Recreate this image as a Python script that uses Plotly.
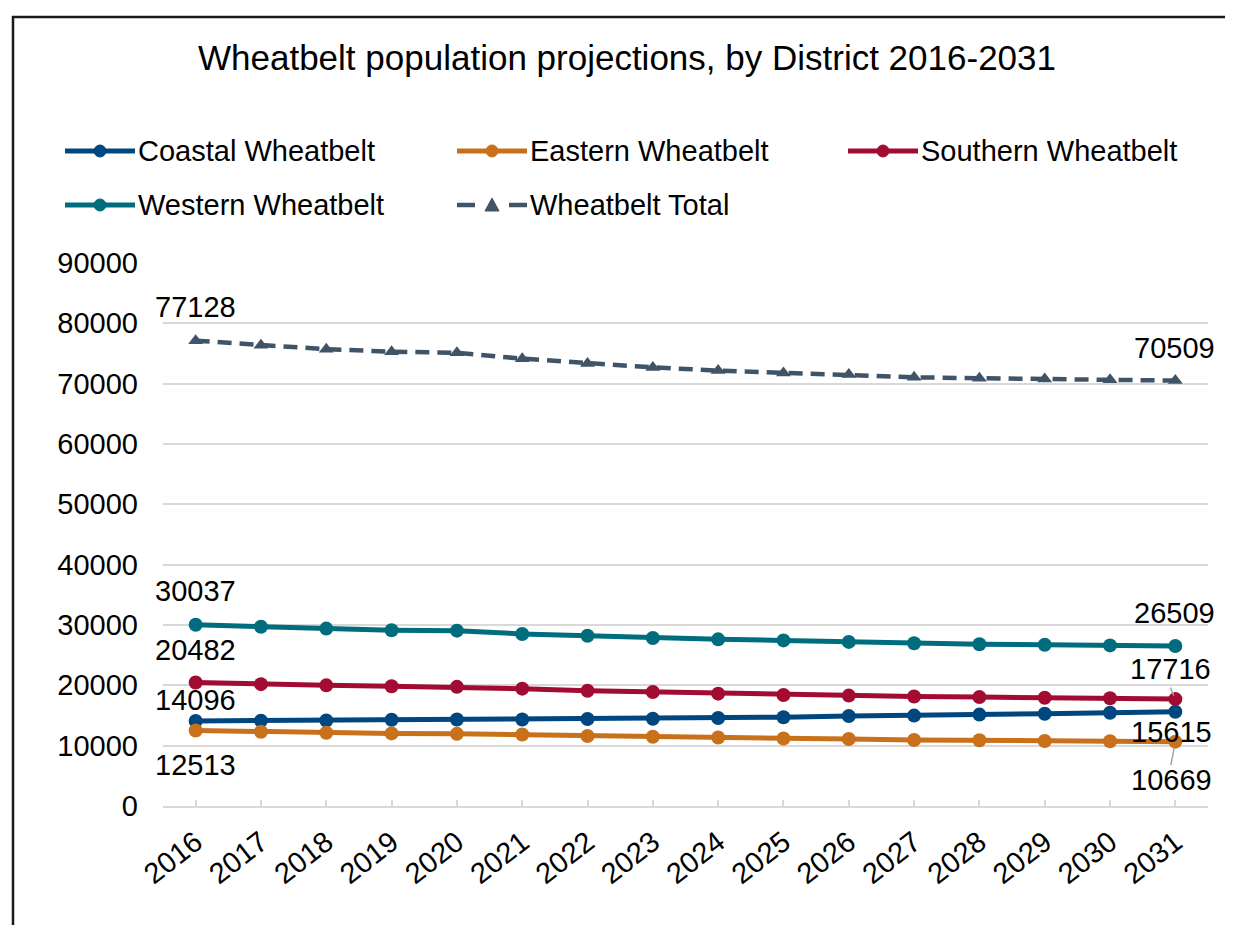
import plotly.graph_objects as go

# ---------------- data ----------------
years = ["2016", "2017", "2018", "2019", "2020", "2021", "2022", "2023",
         "2024", "2025", "2026", "2027", "2028", "2029", "2030", "2031"]

coastal = [14096, 14150, 14180, 14290, 14340, 14330, 14420, 14470,
           14580, 14720, 14900, 14980, 15150, 15300, 15450, 15615]
eastern = [12513, 12300, 12130, 12030, 11960, 11850, 11600, 11480,
           11350, 11200, 11100, 10950, 10900, 10780, 10740, 10669]
southern = [20482, 20200, 20000, 19850, 19750, 19450, 19100, 18900,
            18620, 18400, 18300, 18150, 18050, 17950, 17850, 17716]
western = [30037, 29720, 29400, 29130, 29060, 28520, 28230, 27850,
           27620, 27450, 27200, 26970, 26800, 26730, 26620, 26509]
total = [77128, 76370, 75710, 75300, 75110, 74150, 73350, 72700,
         72170, 71770, 71500, 71050, 70900, 70760, 70660, 70509]

series_names = ["Coastal Wheatbelt", "Eastern Wheatbelt", "Southern Wheatbelt",
                "Western Wheatbelt", "Wheatbelt Total"]
series_values = [coastal, eastern, southern, western, total]
series_colors = ["#00467F", "#C8701A", "#A20C33", "#006D7F", "#405468"]

y_ticks = [0, 10000, 20000, 30000, 40000, 50000, 60000, 70000, 80000, 90000]

title_text = "Wheatbelt population projections, by District 2016-2031"

# ---------------- layout geometry ----------------
W, H = 1233, 925
ML, MR, MT, MB = 155, 33, 255, 127
PW, PH = W - ML - MR, H - MT - MB
FONT = "Liberation Sans, Arial, sans-serif"


def px(xp):
    return (xp - ML) / PW


def py(yp):
    return (H - MB - yp) / PH


fig = go.Figure()

for name, vals, col in zip(series_names, series_values, series_colors):
    if name == "Wheatbelt Total":
        fig.add_trace(go.Scatter(
            x=years, y=vals, mode="lines+markers", name=name,
            line=dict(color=col, width=4.5, dash="14px,8px"),
            marker=dict(symbol="triangle-up", size=13, color=col),
            showlegend=False, cliponaxis=False))
    else:
        fig.add_trace(go.Scatter(
            x=years, y=vals, mode="lines+markers", name=name,
            line=dict(color=col, width=5),
            marker=dict(symbol="circle", size=14, color=col),
            showlegend=False, cliponaxis=False))

# ---------------- data labels (first and last point) ----------------
first, last = 0, len(years) - 1
label_specs = [
    # (series values, category index, xshift, yshift)
    (total, first, 0, 34), (total, last, -1, 33),
    (western, first, 0, 34), (western, last, -1, 33),
    (southern, first, 0, 32), (southern, last, -5, 30),
    (coastal, first, 0, 21), (coastal, last, -4, -20),
    (eastern, first, 0, -34), (eastern, last, -4, -38),
]
annotations = []
for vals, i, xs, ys in label_specs:
    annotations.append(dict(
        x=i, y=vals[i], xref="x", yref="y", text=str(vals[i]),
        showarrow=False, xshift=xs, yshift=ys,
        font=dict(family=FONT, size=29, color="#000000")))

# leader lines for two labels
annotations.append(dict(x=last, y=southern[last], xref="x", yref="y",
                        text=" ", showarrow=True, arrowhead=0, arrowwidth=1.5,
                        arrowcolor="#A6A6A6", ax=-6, ay=-14, standoff=4,
                        font=dict(size=2)))
annotations.append(dict(x=last, y=eastern[last], xref="x", yref="y",
                        text=" ", showarrow=True, arrowhead=0, arrowwidth=1.5,
                        arrowcolor="#A6A6A6", ax=-5, ay=26, standoff=6,
                        font=dict(size=2)))

# ---------------- manual legend ----------------
shapes = []
legend_pos = [(57, 143), (449, 143), (840, 143), (57, 197), (449, 197)]
for (lx, ly), name, col in zip(legend_pos, series_names, series_colors):
    cx = lx + 35
    if name == "Wheatbelt Total":
        for a, b in [(lx, lx + 18), (lx + 52, lx + 70)]:
            shapes.append(dict(type="line", xref="paper", yref="paper",
                               x0=px(a), x1=px(b), y0=py(ly), y1=py(ly),
                               line=dict(color=col, width=4.5)))
        shapes.append(dict(type="path", xref="paper", yref="paper",
                           xsizemode="pixel", ysizemode="pixel",
                           xanchor=px(cx), yanchor=py(ly),
                           path="M -7,-6 L 7,-6 L 0,7 Z",
                           fillcolor=col, line=dict(color=col, width=1)))
    else:
        shapes.append(dict(type="line", xref="paper", yref="paper",
                           x0=px(lx), x1=px(lx + 70), y0=py(ly), y1=py(ly),
                           line=dict(color=col, width=5)))
        shapes.append(dict(type="circle", xref="paper", yref="paper",
                           xsizemode="pixel", ysizemode="pixel",
                           xanchor=px(cx), yanchor=py(ly),
                           x0=-6, x1=6, y0=-6, y1=6,
                           fillcolor=col, line=dict(color=col, width=1)))
    annotations.append(dict(x=px(lx + 71), y=py(ly), xref="paper", yref="paper",
                            xanchor="left", yanchor="middle", text=name,
                            showarrow=False,
                            font=dict(family=FONT, size=29, color="#000000")))

# ---------------- frame ----------------
shapes.append(dict(type="path", xref="paper", yref="paper",
                   path="M {} {} L {} {} L {} {}".format(
                       px(5), py(H + 5), px(5), py(9), px(W + 5), py(9)),
                   line=dict(color="#1A1A1A", width=2.5)))
shapes.append(dict(type="line", xref="paper", yref="paper",
                   x0=px(1231.5), x1=px(1231.5), y0=py(9), y1=py(H + 5),
                   line=dict(color="#D0D0D0", width=1.5)))

fig.update_layout(
    width=W, height=H,
    margin=dict(l=ML, r=MR, t=MT, b=MB, pad=0),
    paper_bgcolor="white", plot_bgcolor="white",
    font=dict(family=FONT, size=29, color="#000000"),
    title=dict(text=title_text, x=619 / W, xanchor="center",
               y=1 - 50 / H, yanchor="middle", yref="container",
               font=dict(family=FONT, size=35, color="#000000")),
    showlegend=False,
    annotations=annotations,
    shapes=shapes,
    xaxis=dict(type="category", categoryorder="array", categoryarray=years,
               range=[-0.5, len(years) - 0.5],
               showgrid=False, showline=True, linecolor="#D9D9D9", linewidth=1.5,
               ticks="inside", ticklen=6, tickcolor="#D9D9D9", tickwidth=1.5,
               tickangle=-38, ticklabelstandoff=6,
               tickfont=dict(family=FONT, size=29, color="#000000")),
    yaxis=dict(range=[0, 90000], tickvals=y_ticks, tickformat="d",
               showgrid=True, gridcolor="#D9D9D9", gridwidth=1.5,
               zeroline=False, showline=False, ticks="",
               ticklabelstandoff=24,
               tickfont=dict(family=FONT, size=29, color="#000000")),
)

fig.write_html("out.html")
